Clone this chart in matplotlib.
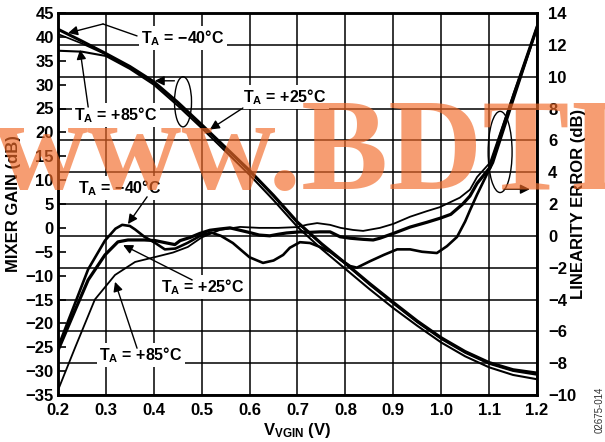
import matplotlib
matplotlib.use('Agg')
import matplotlib.pyplot as plt
from matplotlib.patches import Ellipse
import numpy as np

plt.rcParams['font.family'] = ['Liberation Sans', 'DejaVu Sans']
plt.rcParams['font.weight'] = 'bold'
plt.rcParams['mathtext.fontset'] = 'custom'
plt.rcParams['mathtext.rm'] = 'Liberation Sans:bold'
plt.rcParams['mathtext.it'] = 'Liberation Sans:bold'
plt.rcParams['mathtext.bf'] = 'Liberation Sans:bold'

# ---------------- data ----------------
gain_v = [0.20, 0.25, 0.30, 0.35, 0.40, 0.45, 0.50, 0.55, 0.60, 0.65, 0.70,
          0.75, 0.80, 0.85, 0.90, 0.95, 1.00, 1.05, 1.10, 1.15, 1.20]
gain_m40 = [41.6, 39.1, 36.5, 33.8, 30.6, 26.3, 21.6, 16.8, 12.0, 6.8, 1.2,
            -3.3, -7.4, -11.6, -15.6, -19.5, -23.0, -25.9, -28.2, -29.7, -30.4]
gain_p25 = [40.6, 38.6, 36.3, 33.6, 30.4, 26.1, 21.4, 16.6, 11.8, 6.6, 1.0,
            -3.5, -7.6, -11.9, -15.9, -19.8, -23.3, -26.2, -28.5, -30.0, -30.8]
gain_p85 = [37.1, 36.9, 36.0, 33.3, 30.0, 25.6, 20.9, 16.0, 11.1, 5.8, 0.2,
            -4.4, -8.6, -12.8, -16.8, -20.5, -24.0, -26.9, -29.2, -30.8, -31.7]

err_m40_v = [0.200, 0.236, 0.263, 0.298, 0.320, 0.334, 0.350, 0.361, 0.380, 0.403,
             0.423, 0.445, 0.470, 0.500, 0.520, 0.540, 0.565, 0.600, 0.628, 0.650,
             0.670, 0.684, 0.705, 0.726, 0.747, 0.768, 0.790, 0.810, 0.824, 0.851,
             0.880, 0.908, 0.935, 0.960, 0.991, 1.012, 1.033, 1.050, 1.060, 1.075,
             1.096, 1.108, 1.152, 1.200]
err_m40 = [-7.0, -4.2, -2.1, -0.3, 0.45, 0.69, 0.62, 0.4, -0.05, -0.45,
           -0.85, -0.8, -0.45, 0.05, 0.2, 0.0, -0.45, -1.35, -1.70, -1.55,
           -1.2, -0.75, -0.4, -0.45, -0.7, -1.0, -1.5, -1.9, -2.0, -1.6,
           -1.2, -0.85, -0.85, -1.0, -1.08, -0.65, -0.07, 0.9, 1.6, 2.6,
           3.9, 4.6, 8.7, 13.1]

err_p25_v = [0.200, 0.236, 0.263, 0.298, 0.325, 0.346, 0.380, 0.403, 0.427, 0.444,
             0.455, 0.476, 0.496, 0.517, 0.538, 0.559, 0.580, 0.601, 0.620, 0.642,
             0.660, 0.677, 0.705, 0.726, 0.747, 0.768, 0.789, 0.810, 0.837, 0.858,
             0.872, 0.900, 0.935, 0.970, 0.997, 1.020, 1.045, 1.060, 1.075, 1.102,
             1.152, 1.200]
err_p25 = [-7.2, -4.65, -2.77, -1.2, -0.38, -0.26, -0.26, -0.3, -0.45, -0.55,
           -0.3, -0.1, 0.15, 0.35, 0.43, 0.5, 0.35, 0.2, 0.05, 0.0,
           0.1, 0.18, 0.25, 0.22, 0.25, 0.25, -0.06, -0.15, -0.22, -0.26,
           -0.15, 0.15, 0.55, 0.85, 1.1, 1.35, 2.0, 2.5, 3.3, 4.3,
           8.9, 13.1]

err_p85_v = [0.200, 0.236, 0.277, 0.319, 0.361, 0.403, 0.440, 0.471, 0.500, 0.538,
             0.580, 0.620, 0.660, 0.700, 0.720, 0.741, 0.768, 0.790, 0.816, 0.837,
             0.872, 0.900, 0.935, 0.970, 0.997, 1.018, 1.039, 1.060, 1.075, 1.102,
             1.152, 1.200]
err_p85 = [-9.7, -7.0, -4.0, -2.46, -1.64, -1.33, -1.05, -0.7, -0.1, 0.37,
           0.56, 0.5, 0.5, 0.55, 0.7, 0.8, 0.69, 0.5, 0.37, 0.31,
           0.5, 0.75, 1.2, 1.55, 1.8, 2.1, 2.4, 2.9, 3.7, 4.6,
           9.0, 13.1]

x_ticks = [0.2, 0.3, 0.4, 0.5, 0.6, 0.7, 0.8, 0.9, 1.0, 1.1, 1.2]
x_ticklabels = ['0.2', '0.3', '0.4', '0.5', '0.6', '0.7', '0.8', '0.9', '1.0', '1.1', '1.2']
gain_ticks = list(range(-35, 46, 5))
err_ticks = list(range(-10, 15, 2))

# ---------------- figure ----------------
W, H = 605, 442
fig = plt.figure(figsize=(W / 100, H / 100), dpi=100)
fig.patch.set_facecolor('white')
ax = fig.add_axes([58 / W, 1 - 395 / H, (537 - 58) / W, (395 - 13) / H])
ax2 = ax.twinx()
ax.set_zorder(ax2.get_zorder() + 1)
ax.patch.set_visible(False)

FS = 12
ax.set_xlim(0.2, 1.2)
ax.set_ylim(-35, 45)
ax2.set_ylim(-10, 14)
ax.set_xticks(x_ticks)
ax.set_xticklabels(x_ticklabels)
ax.set_yticks(gain_ticks)
ax2.set_yticks(err_ticks)
ax.tick_params(axis='y', direction='in', length=6, width=1.2, pad=3, labelsize=FS)
ax.tick_params(axis='x', direction='in', length=0, pad=6, labelsize=FS)
ax2.tick_params(axis='y', direction='in', length=0, pad=8, labelsize=FS)
for lab in ax.get_xticklabels() + ax.get_yticklabels() + ax2.get_yticklabels():
    lab.set_fontweight('bold')

ax.grid(axis='x', color='black', lw=1.1)
ax2.grid(axis='y', color='black', lw=1.1)
for a in (ax, ax2):
    for s in a.spines.values():
        s.set_linewidth(1.8)

# error curves (right axis)
ax2.plot(err_m40_v, err_m40, color='black', lw=1.9, zorder=3)
ax2.plot(err_p25_v, err_p25, color='black', lw=2.3, zorder=3)
ax2.plot(err_p85_v, err_p85, color='black', lw=1.3, zorder=3)

# gain curves (left axis)
ax.plot(gain_v, gain_m40, color='black', lw=2.2, zorder=3)
ax.plot(gain_v, gain_p25, color='black', lw=1.2, zorder=3)
ax.plot(gain_v, gain_p85, color='black', lw=1.5, zorder=3)

# ---------------- annotations ----------------
AFS = 11.5
box = dict(fc='white', ec='none', pad=1.5)


def label(x, y, s):
    ax.text(x, y, s, ha='center', va='center', fontsize=AFS, fontweight='bold',
            bbox=box, zorder=6)


def arrow(tail, tip):
    ax.annotate('', xy=tip, xytext=tail,
                arrowprops=dict(arrowstyle='-|>', color='black', lw=1.0,
                                mutation_scale=14, shrinkA=0, shrinkB=0),
                zorder=7)


def leader(p0, p1):
    ax.annotate('', xy=p1, xytext=p0,
                arrowprops=dict(arrowstyle='-', color='black', lw=1.0,
                                shrinkA=0, shrinkB=0), zorder=7)


label(0.461, 39.8, r'T$_{\mathrm{A}}$ = −40°C')
leader((0.365, 40.2), (0.294, 42.7))
arrow((0.294, 42.7), (0.221, 40.8))

label(0.321, 23.6, r'T$_{\mathrm{A}}$ = +85°C')
arrow((0.263, 25.3), (0.246, 37.3))

label(0.674, 27.4, r'T$_{\mathrm{A}}$ = +25°C')
arrow((0.586, 25.1), (0.517, 20.6))

label(0.329, 8.4, r'T$_{\mathrm{A}}$ = −40°C')
arrow((0.386, 6.5), (0.346, 0.8))

label(0.503, -12.4, r'T$_{\mathrm{A}}$ = +25°C')
arrow((0.480, -10.9), (0.336, -3.6))

label(0.373, -26.6, r'T$_{\mathrm{A}}$ = +85°C')
arrow((0.365, -25.2), (0.319, -11.3))

ax.add_patch(Ellipse((0.461, 26.4), 0.0355, 10.5, fill=False, ec='black', lw=1.0, zorder=6))
arrow((0.443, 30.8), (0.402, 30.8))

ax.add_patch(Ellipse((1.123, 15.9), 0.050, 17.0, fill=False, ec='black', lw=1.0, zorder=6))
arrow((1.131, 8.1), (1.185, 8.1))

# ---------------- axis titles ----------------
fig.text(14 / W, 1 - 204 / H, 'MIXER GAIN (dB)', rotation=90, ha='center', va='center',
         fontsize=FS, fontweight='bold')
fig.text(578 / W, 1 - 204 / H, 'LINEARITY ERROR (dB)', rotation=90, ha='center',
         va='center', fontsize=FS, fontweight='bold')
fig.text(297 / W, 1 - 431 / H, r'V$_{\mathrm{VGIN}}$ (V)', ha='center', va='center',
         fontsize=FS, fontweight='bold')
fig.text(600 / W, 1 - 410 / H, '02675-014', rotation=90, ha='center', va='center',
         fontsize=7, fontweight='normal', color='#333333')

# watermark
fig.text(-6 / W, 1 - 189 / H, 'www.BDTIC.com', ha='left', va='baseline',
         fontsize=94, family='Liberation Serif', fontweight='bold',
         color=(0.95, 0.42, 0.16), alpha=0.66, zorder=20)

fig.savefig('out.png', dpi=100)
